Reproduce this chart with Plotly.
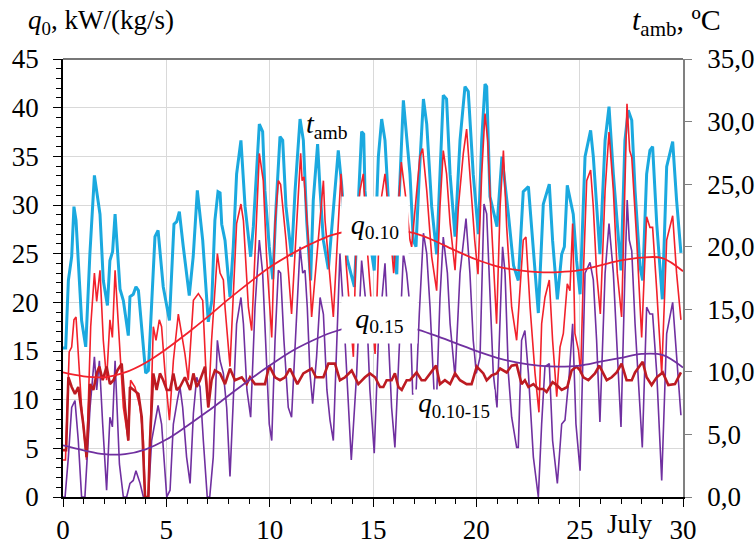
import plotly.graph_objects as go

# ---- ambient temperature, t_amb (right axis, °C) ----
t_days = [0.0, 0.13, 0.26, 0.42, 0.53, 0.63, 0.9, 1.1, 1.3, 1.52, 1.79, 1.95, 2.15, 2.27, 2.4, 2.52,
          2.76, 2.92, 3.16, 3.24, 3.4, 3.53, 3.65, 3.8, 4.0, 4.13, 4.29, 4.45, 4.6, 4.85, 5.15, 5.26,
          5.37, 5.5, 5.63, 5.82, 6.11, 6.3, 6.5, 6.76, 7.03, 7.2, 7.35, 7.5, 7.6, 7.68, 7.84, 8.08,
          8.24, 8.4, 8.61, 8.81, 9.08, 9.21, 9.37, 9.5, 9.66, 9.77, 9.98, 10.15, 10.31, 10.5, 10.63,
          10.79, 11.06, 11.23, 11.47, 11.63, 11.79, 11.98, 12.11, 12.32, 12.44, 12.6, 12.84, 13.08,
          13.32, 13.48, 13.75, 14.1, 14.3, 14.45, 14.55, 14.61, 14.85, 15.06, 15.26, 15.42, 15.58,
          15.8, 16.15, 16.27, 16.47, 16.63, 16.79, 16.95, 17.08, 17.24, 17.44, 17.6, 17.84, 18.08,
          18.24, 18.4, 18.56, 18.73, 18.97, 19.21, 19.45, 19.61, 19.85, 20.1, 20.26, 20.42, 20.5,
          20.66, 21.0, 21.24, 21.55, 21.8, 22.03, 22.27, 22.52, 22.76, 23.0, 23.24, 23.53, 23.69,
          23.92, 24.13, 24.26, 24.4, 24.69, 24.85, 25.02, 25.26, 25.53, 25.66, 25.98, 26.23, 26.42,
          26.63, 27.0, 27.19, 27.35, 27.52, 27.68, 27.92, 28.05, 28.24, 28.4, 28.53, 28.73, 29.0,
          29.21, 29.5, 29.69, 29.9]
t_amb = [11.9, 11.9, 17.3, 19.2, 23.2, 22.1, 14.1, 12.0, 19.4, 25.7, 22.6, 17.3, 15.3, 18.9, 19.6, 22.6,
         16.6, 15.7, 12.9, 16.0, 16.2, 16.8, 16.5, 13.9, 9.9, 10.1, 15.2, 20.8, 21.3, 16.8, 14.1, 17.8,
         21.8, 22.0, 22.8, 20.0, 16.1, 19.2, 24.5, 20.5, 14.0, 15.7, 22.1, 24.4, 24.3, 21.8, 20.5, 16.0,
         20.0, 25.8, 28.5, 23.2, 19.2, 21.6, 25.8, 29.8, 29.2, 24.5, 20.0, 17.4, 23.2, 28.8, 28.5,
         23.2, 19.2, 24.5, 30.2, 28.5, 22.1, 17.3, 23.7, 28.2, 24.5, 20.5, 18.2, 23.2,
         27.7, 25.0, 19.0, 16.8, 23.7, 29.2, 29.0, 24.5, 20.5, 18.1, 27.2, 30.2, 28.5,
         22.0, 17.8, 24.0, 31.7, 28.5, 25.8, 20.5, 20.0, 25.8, 31.8, 29.8, 23.2, 19.4,
         25.8, 32.1, 31.8, 25.8, 20.8, 28.5, 32.8, 32.4, 25.8, 21.0, 28.5, 33.0, 32.8,
         24.0, 21.6, 27.2, 22.6, 18.5, 17.3, 24.4, 24.8, 20.0, 14.7, 23.4, 25.0, 20.5,
         15.8, 19.4, 20.0, 24.9, 22.6, 18.9, 16.2, 27.2, 29.3, 27.2, 19.4, 28.5, 31.2,
         25.8, 18.1, 28.5, 30.9, 30.1, 24.5, 18.4, 17.3, 25.8, 27.7, 28.0, 21.8, 15.8,
         26.4, 28.4, 23.7, 19.5]

# ---- q0.10 (left axis, kW/(kg/s)) ----
q10_days = [0.0, 0.12, 0.3, 0.42, 0.53, 0.63, 0.9, 1.14, 1.34, 1.52, 1.63, 1.79, 1.95, 2.11, 2.27, 2.39,
            2.52, 2.73, 2.92, 3.16, 3.27, 3.48, 3.73, 3.89, 3.97, 4.13, 4.21, 4.37, 4.5, 4.66, 4.77,
            4.94, 5.15, 5.34, 5.58, 5.9, 6.06, 6.31, 6.55, 6.76, 6.92, 7.03, 7.19, 7.47, 7.6, 7.76,
            7.84, 8.08, 8.4, 8.61, 8.73, 8.97, 9.13, 9.5, 9.69, 9.85, 10.1, 10.26, 10.42, 10.53, 10.79,
            10.98, 11.06, 11.5, 11.57, 11.66, 11.87, 12.03, 12.6, 12.68, 13.08, 13.45, 13.7, 14.05,
            14.2, 14.37, 14.53, 14.69, 14.94, 15.1, 15.34, 15.58, 15.82, 16.0, 16.37, 16.6, 16.79,
            16.87, 17.27, 17.4, 17.6, 17.84, 18.08, 18.24, 18.4, 18.56, 18.73, 18.97, 19.13, 19.37,
            19.53, 19.69, 19.92, 20.08, 20.26, 20.42, 20.55, 20.74, 20.98, 21.15, 21.31, 21.47, 21.71,
            21.95, 22.27, 22.4, 22.6, 22.84, 23.03, 23.16, 23.32, 23.53, 23.69, 23.89, 24.05, 24.21,
            24.4, 24.53, 24.66, 24.77, 24.94, 25.05, 25.18, 25.34, 25.53, 25.66, 25.82, 26.0, 26.23,
            26.42, 26.63, 26.82, 27.03, 27.29, 27.42, 27.52, 27.76, 28.0, 28.24, 28.4, 28.53, 28.73,
            28.97, 29.21, 29.5, 29.69, 29.9]
q10 = [3.8, 3.8, 14.9, 15.4, 18.2, 18.5, 9.2, 3.8, 17.5, 23.0, 20.1, 23.3, 16.1, 12.0, 18.2, 16.4,
       23.3, 16.1, 9.2, 5.8, 12.0, 11.3, 9.2, 5.8, 0.0, 0.0, 5.8, 17.5, 16.1, 18.2, 17.5,
       12.7, 7.9, 14.0, 18.8, 14.7, 12.0, 20.2, 20.9, 20.2, 12.7, 9.2, 16.1, 25.0, 23.0, 22.3,
       19.5, 13.4, 28.1, 30.1, 28.4, 19.5, 17.1, 35.3, 32.5, 24.7, 16.4, 28.1, 32.5, 32.1, 26.4,
       20.5, 18.8, 35.3, 32.5, 32.9, 26.4, 18.5, 32.5, 28.4, 18.5, 33.2, 24.0, 14.4,
       28.0, 31.5, 33.2, 26.4, 19.5, 14.7, 29.8, 33.2, 27.7, 23.0, 34.4, 30.5, 26.4,
       25.7, 35.0, 35.8, 31.5, 24.7, 21.2, 29.8, 35.6, 33.2, 28.1, 23.3, 29.8, 35.3,
       37.8, 33.2, 26.4, 22.9, 33.2, 39.4, 36.6, 27.7, 17.8, 29.8, 35.6, 27.7, 19.5,
       16.1, 26.4, 26.7, 19.5, 12.7, 8.7, 17.8, 20.5, 22.3, 16.1, 10.3, 15.4, 16.8,
       21.9, 21.2, 28.1, 16.8, 15.1, 12.7, 23.0, 32.5, 33.6, 29.8, 23.0, 18.8, 31.5,
       37.5, 31.5, 23.0, 18.5, 40.4, 35.6, 34.9, 26.4, 16.4, 28.8, 27.7, 27.7, 21.2,
       12.7, 26.4, 28.9, 23.0, 18.2]

# ---- q0.15 (left axis) ----
q15_days = [0.0, 0.1, 0.26, 0.42, 0.58, 0.74, 0.9, 1.06, 1.31, 1.52, 1.63, 1.76, 1.92, 2.11, 2.27, 2.39,
            2.52, 2.73, 2.92, 3.08, 3.24, 3.4, 3.53, 3.73, 3.89, 4.13, 4.29, 4.45, 4.6, 4.77, 5.02,
            5.18, 5.34, 5.53, 5.66, 5.79, 5.98, 6.15, 6.31, 6.47, 6.63, 6.79, 6.98, 7.1, 7.27, 7.47,
            7.6, 7.76, 7.92, 8.08, 8.24, 8.4, 8.61, 8.73, 8.9, 9.08, 9.29, 9.5, 9.66, 9.77, 9.98,
            10.1, 10.26, 10.42, 10.53, 10.69, 10.9, 11.06, 11.23, 11.47, 11.6, 11.71, 11.82, 11.95,
            12.08, 12.27, 12.44, 12.6, 12.77, 12.92, 13.08, 13.4, 13.6, 13.95, 14.21, 14.45, 14.69,
            14.85, 15.06, 15.26, 15.58, 15.74, 15.9, 16.06, 16.27, 16.47, 16.63, 16.79, 16.92, 17.08,
            17.24, 17.44, 17.6, 17.76, 17.95, 18.08, 18.24, 18.4, 18.6, 18.73, 18.97, 19.21, 19.5,
            19.69, 19.85, 20.0, 20.18, 20.37, 20.5, 20.66, 20.82, 21.0, 21.15, 21.27, 21.39, 21.55,
            21.71, 21.95, 22.03, 22.19, 22.35, 22.52, 22.76, 23.0, 23.16, 23.32, 23.53, 23.69, 23.92,
            24.13, 24.29, 24.5, 24.66, 24.82, 25.02, 25.26, 25.5, 25.66, 25.82, 25.98, 26.23, 26.42,
            26.63, 26.87, 27.0, 27.19, 27.3, 27.4, 27.52, 27.68, 27.92, 28.03, 28.24, 28.4, 28.53,
            28.73, 28.97, 29.21, 29.5, 29.69, 29.9]
q15 = [0.0, 0.0, 4.1, 9.2, 9.9, 5.8, 0.0, 0.0, 9.2, 14.4, 11.0, 14.0, 7.5, 0.7, 8.2, 7.2,
       14.0, 3.4, 0.0, 0.0, 1.4, 1.7, 2.7, 1.4, 0.0, 0.0, 5.8, 7.9, 9.4, 7.5, 0.0,
       0.7, 7.5, 9.9, 11.3, 9.2, 4.1, 1.4, 8.6, 12.3, 11.3, 5.8, 0.0, 0.0, 4.1, 16.1,
       14.0, 12.7, 9.2, 2.1, 9.2, 17.8, 20.5, 17.8, 11.0, 8.2, 19.5, 26.4, 23.0, 17.8, 7.5,
       5.8, 16.1, 23.3, 23.0, 16.1, 9.2, 8.2, 16.1, 25.7, 23.0, 23.3, 19.5, 12.7,
       9.6, 14.4, 20.5, 18.8, 11.0, 7.9, 5.8, 25.0, 18.0, 3.8, 12.7, 24.3, 19.2,
       11.0, 4.5, 16.1, 24.0, 16.1, 9.2, 5.1, 16.1, 25.0, 23.0, 19.5, 10.6, 10.6,
       18.8, 27.1, 25.0, 19.5, 11.0, 10.3, 20.4, 26.7, 23.0, 17.8, 12.3, 23.0, 28.6,
       23.0, 16.1, 12.7, 14.4, 30.1, 29.1, 21.2, 12.7, 9.2, 19.5, 25.7, 23.0, 12.7,
       8.2, 5.1, 5.1, 16.1, 17.1, 12.7, 4.1, 0.0, 7.5, 13.4, 13.7, 5.8, 1.4,
       7.5, 7.9, 12.7, 17.8, 7.5, 2.7, 23.0, 24.1, 22.3, 16.1, 7.7, 23.0, 28.1,
       23.0, 12.7, 7.2, 23.0, 30.5, 26.4, 25.3, 17.8, 9.2, 5.1, 19.5, 18.8, 18.8,
       12.7, 1.7, 16.8, 20.0, 14.4, 8.4]

# ---- q0.10-15 (left axis) ----
q1015_days = [0.0, 0.15, 0.26, 0.42, 0.58, 0.74, 0.98, 1.14, 1.31, 1.47, 1.63, 1.76, 1.92, 2.11, 2.27,
              2.44, 2.63, 2.84, 3.0, 3.16, 3.24, 3.4, 3.65, 3.81, 3.97, 4.13, 4.21, 4.37, 4.53, 4.69,
              4.85, 5.02, 5.18, 5.34, 5.5, 5.66, 5.9, 6.15, 6.31, 6.47, 6.63, 6.87, 7.03, 7.19, 7.35,
              7.6, 7.84, 8.08, 8.32, 8.65, 8.89, 9.05, 9.29, 9.53, 9.77, 9.98, 10.26, 10.5, 10.74,
              10.98, 11.34, 11.63, 11.87, 12.03, 12.24, 12.6, 12.84, 13.16, 13.4, 13.65, 13.97, 14.29,
              14.61, 14.85, 15.1, 15.34, 15.5, 15.66, 15.9, 16.06, 16.23, 16.39, 16.63, 16.79, 17.11,
              17.35, 17.52, 17.76, 18.05, 18.24, 18.48, 18.73, 18.97, 19.21, 19.53, 19.77, 20.02,
              20.34, 20.5, 20.74, 20.98, 21.15, 21.47, 21.71, 21.95, 22.19, 22.35, 22.52, 22.76, 23.0,
              23.24, 23.4, 23.56, 23.69, 23.89, 24.13, 24.4, 24.61, 24.85, 25.02, 25.18, 25.42, 25.74,
              25.95, 26.31, 26.55, 26.79, 27.03, 27.27, 27.52, 27.68, 27.89, 28.05, 28.24, 28.48,
              28.73, 29.02, 29.29, 29.61, 29.9]
q1015 = [4.8, 4.8, 12.3, 11.3, 10.6, 11.3, 7.5, 4.1, 11.6, 11.0, 12.7, 13.4, 12.0, 13.4, 11.6,
         12.0, 13.0, 13.7, 9.2, 5.8, 11.3, 11.0, 10.6, 8.2, 0.0, 0.0, 5.8, 12.7, 11.0, 12.7,
         12.0, 11.0, 11.0, 12.7, 11.0, 11.3, 12.3, 11.0, 12.7, 11.3, 12.0, 13.4, 9.2, 12.0, 13.0,
         12.7, 11.6, 13.2, 12.0, 12.3, 11.6, 12.3, 11.6, 11.6, 11.6, 13.5, 12.3, 12.0, 12.3,
         13.2, 11.6, 12.7, 13.0, 13.2, 12.3, 12.3, 13.7, 13.7, 12.0, 12.3, 13.0, 11.6,
         12.3, 12.7, 12.3, 11.3, 11.3, 12.0, 12.0, 12.7, 11.3, 11.0, 12.0, 12.0, 12.8,
         12.0, 12.0, 12.7, 13.5, 11.6, 12.0, 11.6, 12.7, 12.0, 11.6, 11.6, 13.4,
         12.7, 12.0, 12.5, 12.7, 13.2, 12.8, 13.5, 13.6, 11.6, 12.0, 11.3, 11.6, 11.1,
         11.1, 10.8, 11.3, 11.8, 11.5, 11.0, 11.3, 13.0, 13.4, 13.0, 12.3, 12.0, 12.7,
         13.5, 12.0, 12.3, 12.8, 13.7, 12.0, 12.0, 12.8, 13.5, 13.9, 12.3, 11.5,
         12.3, 12.8, 11.5, 11.6, 12.8]

# ---- smooth trend curves ----
trend_days = list(range(0, 31))
trend_q10 = [12.8, 12.4, 12.3, 12.8, 13.8, 15.2, 16.8, 18.5, 20.3, 22.0, 23.6, 24.9, 26.0, 26.9, 27.4,
             27.6, 27.5, 27.1, 26.3, 25.3, 24.4, 23.7, 23.3, 23.1, 23.1, 23.3, 23.8, 24.3, 24.6, 24.55,
             23.2]
trend_q15 = [5.3, 4.8, 4.4, 4.4, 4.9, 5.9, 7.3, 8.8, 10.4, 12.0, 13.5, 14.9, 16.0, 16.9, 17.5,
             17.8, 17.7, 17.3, 16.6, 15.8, 15.0, 14.3, 13.8, 13.5, 13.4, 13.5, 13.9, 14.3, 14.7, 14.6,
             13.3]

x_ticks = [0, 5, 10, 15, 20, 25, 30]
left_ticks = [0, 5, 10, 15, 20, 25, 30, 35, 40, 45]
right_ticks = [0, 5, 10, 15, 20, 25, 30, 35]

CYAN = "#1BA9DF"
RED = "#F2212B"
DARKRED = "#BD1B22"
PURPLE = "#7030A0"
FONT = "Liberation Serif"

fig = go.Figure()
fig.add_trace(go.Scatter(x=t_days, y=t_amb, yaxis="y", mode="lines",
                         line=dict(color=CYAN, width=3)))
fig.add_trace(go.Scatter(x=q10_days, y=q10, yaxis="y2", mode="lines",
                         line=dict(color=RED, width=1.6)))
fig.add_trace(go.Scatter(x=q15_days, y=q15, yaxis="y2", mode="lines",
                         line=dict(color=PURPLE, width=1.6)))
fig.add_trace(go.Scatter(x=q1015_days, y=q1015, yaxis="y2", mode="lines",
                         line=dict(color=DARKRED, width=2.6)))
fig.add_trace(go.Scatter(x=trend_days, y=trend_q10, yaxis="y2", mode="lines",
                         line=dict(color=RED, width=1.8, shape="spline")))
fig.add_trace(go.Scatter(x=trend_days, y=trend_q15, yaxis="y2", mode="lines",
                         line=dict(color=PURPLE, width=1.8, shape="spline")))

fig.update_layout(
    template="none",
    width=756, height=546,
    margin=dict(l=63, r=73, t=59, b=49, autoexpand=False),
    paper_bgcolor="white", plot_bgcolor="white",
    showlegend=False,
    separators=", ",
    font=dict(family=FONT, size=27, color="black"),
    xaxis=dict(range=[0, 30], tickvals=x_ticks, showgrid=True, gridcolor="#d9d9d9", gridwidth=1.3,
               showline=True, linecolor="black", linewidth=1.5, zeroline=False, automargin=False,
               ticks="outside", ticklen=8, tickcolor="black", tickwidth=1.2,
               minor=dict(dtick=1, tick0=0, ticks="outside", ticklen=5, tickcolor="black",
                          showgrid=False),
               ticklabelstandoff=0),
    yaxis=dict(range=[0, 35], side="right", tickvals=right_ticks, tickformat=".1f",
               showgrid=False, showline=True, linecolor="#808080", linewidth=1.5,
               ticks="outside", ticklen=7, tickcolor="#808080", zeroline=False, automargin=False,
               ticklabelstandoff=10),
    yaxis2=dict(range=[0, 45], overlaying="y", side="left", tickvals=left_ticks,
                showgrid=True, gridcolor="#d9d9d9", gridwidth=1.3, automargin=False,
                showline=True, linecolor="black", linewidth=1.5, zeroline=False,
                ticks="outside", ticklen=8, tickcolor="black", tickwidth=1.2,
                minor=dict(dtick=1, tick0=0, ticks="outside", ticklen=5, tickcolor="black",
                           showgrid=False),
                ticklabelstandoff=9),
    shapes=[dict(type="line", xref="paper", yref="paper", x0=0, x1=1, y0=1, y1=1,
                 line=dict(color="#777777", width=2))],
)

def px2paper(px, py):
    return (px - 63) / 620.0, (497 - py) / 438.0

def label(px, py, text, size, **kw):
    x, y = px2paper(px, py)
    d = dict(x=x, y=y, xref="paper", yref="paper", showarrow=False, text=text,
             xanchor="center", yanchor="middle", font=dict(size=size))
    d.update(kw)
    return d

anns = [
    label(101, 22, "<i>q</i><sub>0</sub>, kW/(kg/s)", 27),
    label(676, 22, "<i>t</i><sub>amb</sub>, ºC", 30),
    label(630, 524, "July", 27),
    label(327, 125, "<i>t</i><sub>amb</sub>", 28),
    label(375, 226, "<i>q</i><sub>0.10</sub>", 28, bgcolor="white", width=66, height=58, borderpad=0),
    label(380, 320, "<i>q</i><sub>0.15</sub>", 28, bgcolor="white", width=75, height=46, borderpad=0),
    label(454, 405, "<i>q</i><sub>0.10-15</sub>", 27, bgcolor="white", width=80, height=30, borderpad=0),
]
fig.update_layout(annotations=anns)

fig.write_html("out.html", config={"displayModeBar": False},
               post_script="document.body.style.margin='0';")
